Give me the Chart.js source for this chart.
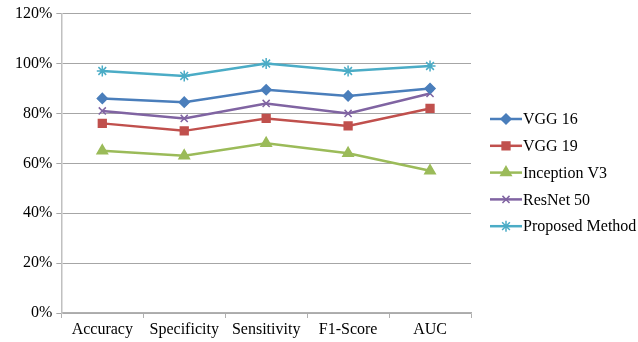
<!DOCTYPE html>
<html>
<head>
<meta charset="utf-8">
<script src="https://cdn.jsdelivr.net/npm/chart.js@4"></script>
<style>
  body { margin: 0; background: #fff; }
  #wrap { width: 638px; height: 342px; }
</style>
</head>
<body>
<div id="wrap"><canvas id="metricsChart" width="638" height="342"></canvas></div>
<script>
const categories = ['Accuracy', 'Specificity', 'Sensitivity', 'F1-Score', 'AUC'];
const vgg16 = [86, 84.5, 89.5, 87, 90];
const vgg19 = [76, 73, 78, 75, 82];
const inceptionV3 = [65, 63, 68, 64, 57];
const resnet50 = [81, 78, 84, 80, 88];
const proposed = [97, 95, 100, 97, 99];
const yTicks = [0, 20, 40, 60, 80, 100, 120];

const FONT = "'Liberation Serif', 'Times New Roman', serif";

function makeSeries(label, data, color, pointStyle, radius) {
    return {
        label: label,
        data: data,
        borderColor: color,
        backgroundColor: color,
        borderWidth: 2.5,
        pointStyle: pointStyle,
        pointRadius: radius,
        pointHoverRadius: radius,
        pointBorderWidth: 1.5,
        tension: 0
    };
}

// legend drawn like the spreadsheet one: short line with the marker on it
const sideLegend = {
    id: 'sideLegend',
    afterDraw(chart) {
        const ctx = chart.ctx;
        const x0 = chart.chartArea.right + 19;
        let y = 119;
        chart.data.datasets.forEach(ds => {
            ctx.save();
            ctx.strokeStyle = ds.borderColor;
            ctx.lineWidth = 2.5;
            ctx.beginPath();
            ctx.moveTo(x0, y);
            ctx.lineTo(x0 + 32, y);
            ctx.stroke();
            ctx.fillStyle = ds.backgroundColor;
            ctx.lineWidth = 1.5;
            Chart.helpers.drawPoint(ctx, {
                pointStyle: ds.pointStyle,
                radius: ds.pointRadius,
                borderWidth: 1.5
            }, x0 + 16, y);
            ctx.fillStyle = '#000';
            ctx.font = '16px ' + FONT;
            ctx.textBaseline = 'middle';
            ctx.fillText(ds.label, x0 + 33, y + 1);
            ctx.restore();
            y += 26.8;
        });
    }
};

new Chart(document.getElementById('metricsChart'), {
    type: 'line',
    data: {
        labels: categories,
        datasets: [
            makeSeries('VGG 16', vgg16, '#4a7ebb', 'rectRot', 5),
            makeSeries('VGG 19', vgg19, '#c0504d', 'rect', 5.5),
            makeSeries('Inception V3', inceptionV3, '#9bbb59', 'triangle', 6),
            makeSeries('ResNet 50', resnet50, '#8064a2', 'crossRot', 5),
            makeSeries('Proposed Method', proposed, '#4bacc6', 'star', 5.5)
        ]
    },
    options: {
        responsive: false,
        animation: false,
        layout: { padding: { top: 8, right: 167, bottom: 0, left: 11 } },
        plugins: {
            legend: { display: false },
            tooltip: { enabled: false }
        },
        scales: {
            x: {
                offset: true,
                grid: {
                    offset: true,
                    drawOnChartArea: false,
                    color: '#b0b0b0',
                    tickLength: 5
                },
                border: { color: '#b0b0b0', width: 1.5 },
                ticks: {
                    color: '#000',
                    font: { family: FONT, size: 16, lineHeight: 1 },
                    padding: 4,
                    maxRotation: 0
                }
            },
            y: {
                min: 0,
                max: 120,
                afterBuildTicks: axis => { axis.ticks = yTicks.map(v => ({ value: v })); },
                grid: {
                    color: '#a6a6a6',
                    tickLength: 5
                },
                border: { color: '#c0c0c0', width: 1.5 },
                ticks: {
                    color: '#000',
                    font: { family: FONT, size: 16 },
                    padding: 4,
                    callback: v => v + '%'
                }
            }
        }
    },
    plugins: [sideLegend]
});
</script>
</body>
</html>
